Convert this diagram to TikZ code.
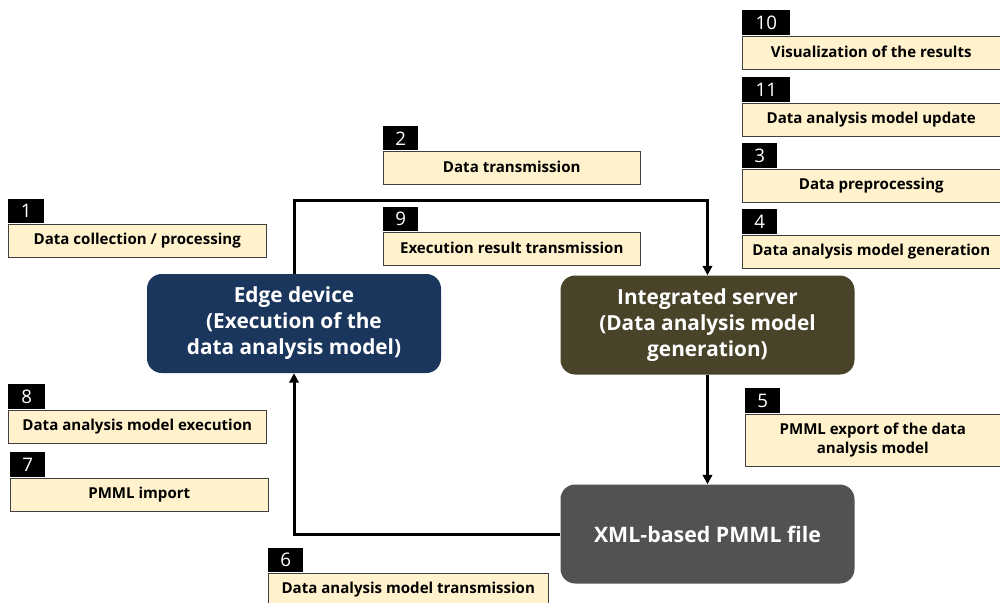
\documentclass[tikz,border=0pt]{standalone}
\usepackage{fontspec}
\setmainfont{Open Sans}
\usetikzlibrary{arrows.meta,positioning}
\definecolor{cream}{HTML}{FFF2CC}
\definecolor{edgeblue}{HTML}{1B365D}
\definecolor{serverolive}{HTML}{494429}
\definecolor{filegray}{HTML}{525252}
\newdimen\px \px=0.75pt

\tikzset{
  numtag/.style={fill=black,text=white,anchor=north west,inner sep=0pt,
    minimum height=24\px,minimum width=36\px,font=\fontsize{14}{14}\selectfont},
  descbox/.style={draw=black!75,fill=cream,anchor=north west,inner sep=0pt,
    minimum height=33\px,minimum width=258\px,align=center,
    font=\bfseries\fontsize{11.3}{14}\selectfont},
  mainbox/.style={rounded corners=11pt,text=white,align=center,
    minimum width=294\px,minimum height=99\px,
    font=\bfseries\fontsize{15.6}{19.5}\selectfont},
  flow/.style={line width=2.25pt,-{Triangle[length=7pt,width=7pt]}}
}

\begin{document}
\begin{tikzpicture}[x=0.75pt,y=-0.75pt]
\useasboundingbox (0,0) rectangle (1000,603);

% main blocks
\node[mainbox,fill=edgeblue] (edge) at (294,323.5) {Edge device\\(Execution of the\\data analysis model)};
\node[mainbox,fill=serverolive] (server) at (707.5,325) {Integrated server\\(Data analysis model\\generation)};
\node[mainbox,fill=filegray,font=\bfseries\fontsize{16}{19.5}\selectfont] (pmml) at (707.5,534) {XML-based PMML file};
\coordinate (topline) at (0,200);

% flows
\draw[flow] (edge.north) |- (topline -| server.north) -- (server.north);
\draw[flow] (server.south) -- (pmml.north);
\draw[flow] (pmml.west) -| (edge.south);

% step labels
\node[numtag] (t1) at (8,199) {1};
\node[descbox] (d1) at (t1.south west) {Data collection / processing};
\node[numtag,minimum width=35\px] (t2) at (383,126) {2};
\node[descbox,minimum width=257\px] (d2) at (t2.south west) {Data transmission};
\node[numtag,minimum width=35\px] (t9) at (383,207) {9};
\node[descbox,minimum width=257\px] (d9) at (t9.south west) {Execution result transmission};
\node[numtag,minimum width=48\px,minimum height=25\px] (t10) at (742,10) {10};
\node[descbox] (d10) at (t10.south west) {Visualization of the results};
\node[numtag,minimum width=48\px,minimum height=25\px] (t11) at (742,77) {11};
\node[descbox] (d11) at (t11.south west) {Data analysis model update};
\node[numtag,minimum width=35\px,minimum height=25\px] (t3) at (742,143) {3};
\node[descbox] (d3) at (t3.south west) {Data preprocessing};
\node[numtag,minimum width=35\px,minimum height=25\px] (t4) at (742,209) {4};
\node[descbox] (d4) at (t4.south west) {Data analysis model generation};
\node[numtag,minimum width=37\px,minimum height=25\px] (t8) at (8,384) {8};
\node[descbox] (d8) at (t8.south west) {Data analysis model execution};
\node[numtag,minimum width=35\px,minimum height=25\px] (t7) at (10,452) {7};
\node[descbox] (d7) at (t7.south west) {PMML import};
\node[numtag,minimum width=35\px,minimum height=25\px] (t5) at (745,388) {5};
\node[descbox,minimum width=255\px,minimum height=52\px] (d5) at (t5.south west) {PMML export of the data\\analysis model};
\node[numtag,minimum width=35\px] (t6) at (268,548) {6};
\node[descbox,minimum width=280\px] (d6) at (t6.south west) {Data analysis model transmission};
\end{tikzpicture}
\end{document}
